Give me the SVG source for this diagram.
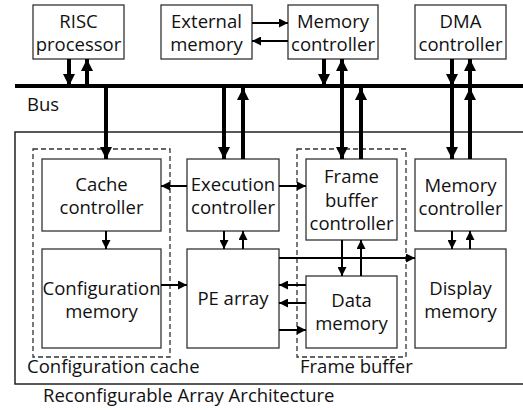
<svg xmlns="http://www.w3.org/2000/svg" width="523" height="410" viewBox="0 0 523 410">
<defs>
<marker id="big" viewBox="0 0 12 12" refX="12" refY="6" markerWidth="12" markerHeight="12" markerUnits="userSpaceOnUse" orient="auto"><path d="M0,0 L12,6 L0,12 z" fill="#000"/></marker>
<marker id="sm" viewBox="0 0 9 9" refX="9" refY="4.5" markerWidth="9" markerHeight="9" markerUnits="userSpaceOnUse" orient="auto"><path d="M0,0 L9,4.5 L0,9 z" fill="#000"/></marker>
<style>
.box{fill:#fff;stroke:#333;stroke-width:1.3}
.dash{fill:none;stroke:#333;stroke-width:1.3;stroke-dasharray:5,3}
.t{font-family:"Open Sans","Noto Sans",sans-serif;font-size:18.5px;fill:#111;text-anchor:middle}
.l{font-family:"Open Sans","Noto Sans",sans-serif;font-size:18.5px;fill:#111}
.thick{stroke:#000;stroke-width:4;fill:none;marker-end:url(#big)}
.thin{stroke:#000;stroke-width:2;fill:none;marker-end:url(#sm)}
</style>
</defs>
<rect x="15" y="132" width="520" height="252" fill="none" stroke="#222" stroke-width="1.5"/>
<text class="l" x="43" y="402">Reconfigurable Array Architecture</text>
<g id="config-cache"><rect class="dash" x="33" y="149" width="137" height="208"/><text class="l" x="27" y="373">Configuration cache</text></g>
<g id="frame-buffer"><rect class="dash" x="297" y="149" width="109" height="208"/><text class="l" x="300" y="373">Frame buffer</text></g>
<g id="risc"><rect class="box" x="33" y="5" width="91" height="54"/><text class="t" x="78.5" y="28">RISC</text><text class="t" x="78.5" y="51">processor</text></g>
<g id="ext-mem"><rect class="box" x="161" y="5" width="91" height="54"/><text class="t" x="206.5" y="28">External</text><text class="t" x="206.5" y="51">memory</text></g>
<g id="mem-ctrl-top"><rect class="box" x="288" y="5" width="90" height="54"/><text class="t" x="333" y="28">Memory</text><text class="t" x="333" y="51">controller</text></g>
<g id="dma"><rect class="box" x="415" y="5" width="91" height="54"/><text class="t" x="460.5" y="28">DMA</text><text class="t" x="460.5" y="51">controller</text></g>
<g id="bus"><line x1="15" y1="86" x2="523" y2="86" stroke="#000" stroke-width="4"/><text class="l" x="27" y="111">Bus</text></g>
<g id="cache-ctrl"><rect class="box" x="42" y="159" width="119" height="72"/><text class="t" x="101.5" y="191">Cache</text><text class="t" x="101.5" y="214">controller</text></g>
<g id="config-mem"><rect class="box" x="42" y="249" width="119" height="99"/><text class="t" x="101.5" y="295">Configuration</text><text class="t" x="101.5" y="318">memory</text></g>
<g id="exec-ctrl"><rect class="box" x="187" y="159" width="92" height="72"/><text class="t" x="233" y="191">Execution</text><text class="t" x="233" y="214">controller</text></g>
<g id="pe-array"><rect class="box" x="187" y="249" width="92" height="99"/><text class="t" x="233" y="305">PE array</text></g>
<g id="fb-ctrl"><rect class="box" x="306" y="159" width="91" height="81"/><text class="t" x="351.5" y="183">Frame</text><text class="t" x="351.5" y="207">buffer</text><text class="t" x="351.5" y="230">controller</text></g>
<g id="data-mem"><rect class="box" x="306" y="276" width="91" height="72"/><text class="t" x="351.5" y="307">Data</text><text class="t" x="351.5" y="330">memory</text></g>
<g id="mem-ctrl"><rect class="box" x="415" y="159" width="91" height="72"/><text class="t" x="460.5" y="192">Memory</text><text class="t" x="460.5" y="215">controller</text></g>
<g id="display-mem"><rect class="box" x="415" y="249" width="91" height="99"/><text class="t" x="460.5" y="295">Display</text><text class="t" x="460.5" y="318">memory</text></g>
<g id="connectors">
<line class="thin" x1="252" y1="23" x2="288" y2="23"/>
<line class="thin" x1="288" y1="41" x2="252" y2="41"/>
<line class="thick" x1="69" y1="59" x2="69" y2="86"/>
<line class="thick" x1="87" y1="86" x2="87" y2="59"/>
<line class="thick" x1="324" y1="59" x2="324" y2="86"/>
<line class="thick" x1="342" y1="86" x2="342" y2="59"/>
<line class="thick" x1="452" y1="59" x2="452" y2="86"/>
<line class="thick" x1="470" y1="86" x2="470" y2="59"/>
<line class="thick" x1="106" y1="86" x2="106" y2="159"/>
<line class="thick" x1="224" y1="86" x2="224" y2="159"/>
<line class="thick" x1="243" y1="159" x2="243" y2="88"/>
<line class="thick" x1="342" y1="86" x2="342" y2="159"/>
<line class="thick" x1="361" y1="159" x2="361" y2="88"/>
<line class="thick" x1="452" y1="86" x2="452" y2="159"/>
<line class="thick" x1="470" y1="159" x2="470" y2="88"/>
<line class="thin" x1="187" y1="186" x2="161" y2="186"/>
<line class="thin" x1="279" y1="186" x2="306" y2="186"/>
<line class="thin" x1="106" y1="231" x2="106" y2="249"/>
<line class="thin" x1="224" y1="231" x2="224" y2="249"/>
<line class="thin" x1="243" y1="249" x2="243" y2="231"/>
<line class="thin" x1="161" y1="285" x2="187" y2="285"/>
<line class="thin" x1="279" y1="258" x2="415" y2="258"/>
<line class="thin" x1="342" y1="240" x2="342" y2="276"/>
<line class="thin" x1="361" y1="276" x2="361" y2="240"/>
<line class="thin" x1="306" y1="285" x2="279" y2="285"/>
<line class="thin" x1="306" y1="303" x2="279" y2="303"/>
<line class="thin" x1="279" y1="330" x2="306" y2="330"/>
<line class="thin" x1="452" y1="231" x2="452" y2="249"/>
<line class="thin" x1="470" y1="249" x2="470" y2="231"/>
</g>
</svg>
